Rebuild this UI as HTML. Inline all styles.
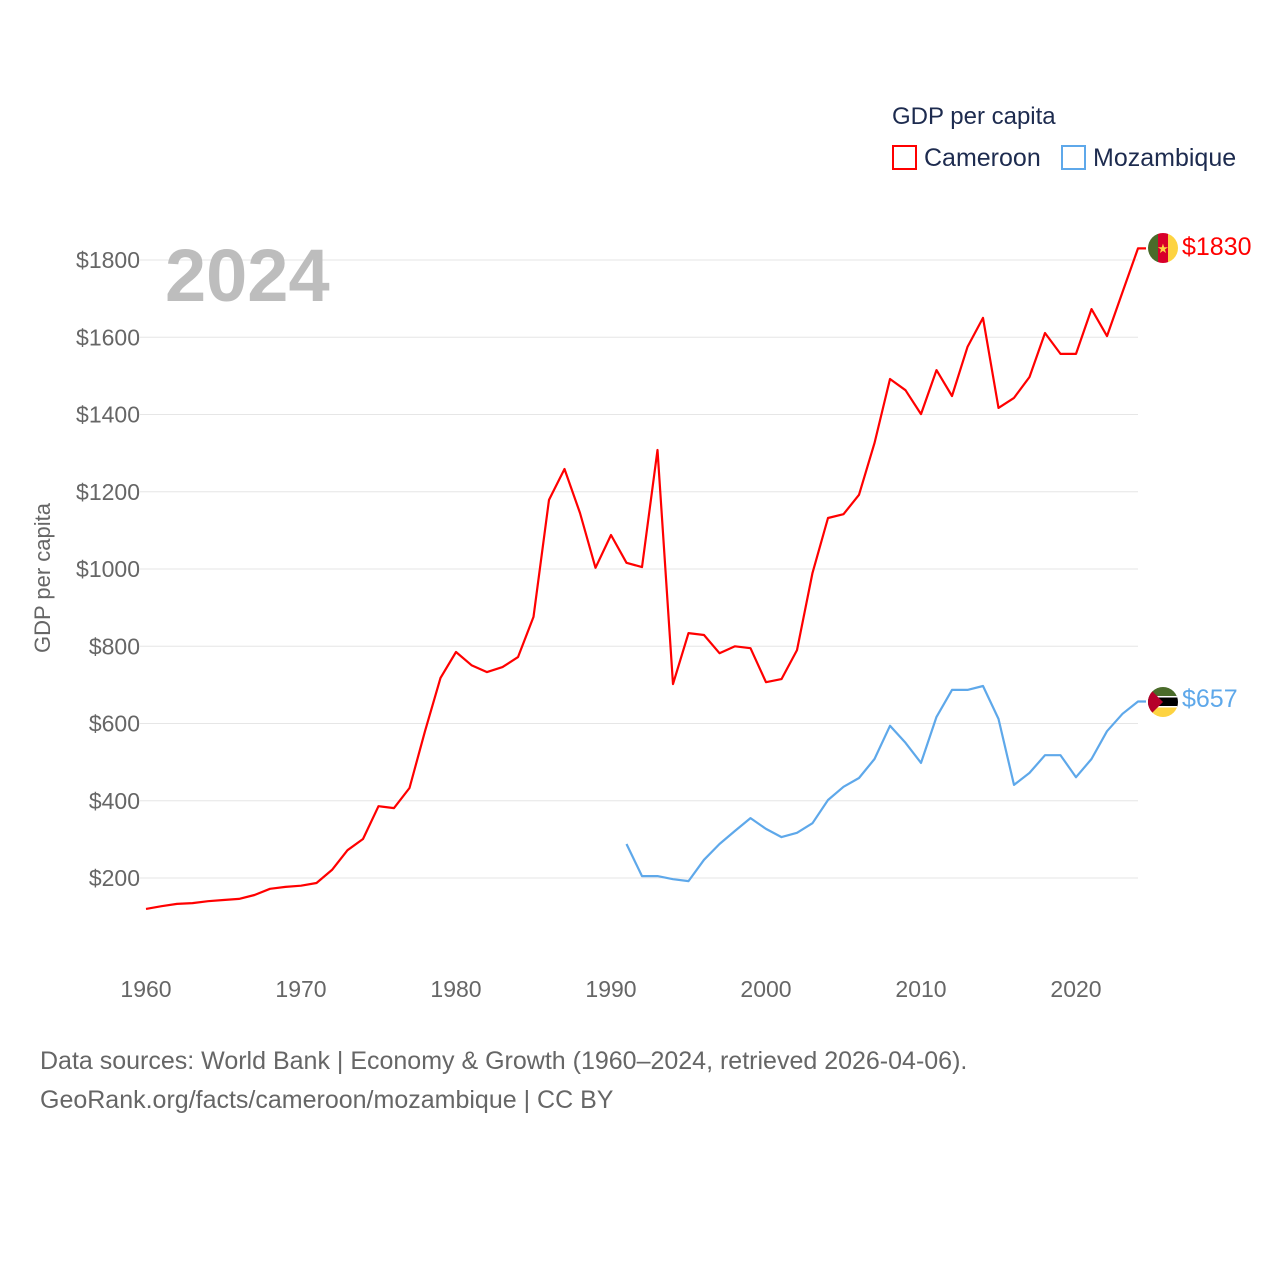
<!DOCTYPE html>
<html><head><meta charset="utf-8"><style>
html,body{margin:0;padding:0;background:#fff;}
svg{display:block;font-family:"Liberation Sans",sans-serif;}
</style></head><body>
<svg id="chart" width="1280" height="1280" viewBox="0 0 1280 1280">
<text x="892" y="124" font-size="24" fill="#1d2b4f">GDP per capita</text>
<g>
<rect x="893" y="146" width="23" height="23" fill="none" stroke="#ff0000" stroke-width="2"/>
<text x="924" y="166" font-size="25" fill="#1d2b4f">Cameroon</text></g>
<g>
<rect x="1062" y="146" width="23" height="23" fill="none" stroke="#5ea8ea" stroke-width="2"/>
<text x="1093" y="166" font-size="25" fill="#1d2b4f">Mozambique</text></g>
<g id="grid"></g><g id="yticks"></g><g id="xticks"></g>
<text x="165" y="301" font-size="74" font-weight="bold" fill="#bdbdbd">2024</text>
<text transform="translate(50,578) rotate(-90)" text-anchor="middle" font-size="22" fill="#666">GDP per capita</text>
<g id="series"></g>
<g>
<clipPath id="c1"><circle cx="1163" cy="248" r="15"/></clipPath>
<g clip-path="url(#c1)"><rect x="1148" y="233" width="10" height="30" fill="#4a6b2a"/><rect x="1158" y="233" width="10" height="30" fill="#d8002a"/><rect x="1168" y="233" width="10" height="30" fill="#fdd341"/><text x="1163" y="253" font-size="13" text-anchor="middle" fill="#fdd341">★</text></g></g>
<g>
<clipPath id="c2"><circle cx="1163" cy="702" r="15"/></clipPath>
<g clip-path="url(#c2)"><rect x="1148" y="687" width="30" height="10" fill="#4a6b2a"/><rect x="1148" y="697" width="30" height="10" fill="#000"/><rect x="1148" y="707" width="30" height="10" fill="#fdd341"/><rect x="1148" y="696" width="30" height="1.5" fill="#fff"/><rect x="1148" y="706" width="30" height="1.5" fill="#fff"/><polygon points="1148,687 1163,702 1148,717" fill="#b5002a"/></g></g>
<text x="1182" y="255" font-size="25" fill="#ff0000">$1830</text>
<text x="1182" y="707" font-size="25" fill="#5ea8ea">$657</text>
<text x="40" y="1069" font-size="25" fill="#666">Data sources: World Bank | Economy &amp; Growth (1960–2024, retrieved 2026-04-06).</text>
<text x="40" y="1108" font-size="25" fill="#666">GeoRank.org/facts/cameroon/mozambique | CC BY</text>
</svg>
<script>
const yTickValues=[200,400,600,800,1000,1200,1400,1600,1800];
const xTickYears=[1960,1970,1980,1990,2000,2010,2020];
const cameroonStart=1960;
const cameroonValues=[120,127,133,135,140,143,146,156,172,177,180,187,221,272,301,386,381,433,580,718,785,751,733,746,772,876,1179,1259,1145,1003,1088,1016,1005,1308,702,834,829,782,800,795,707,715,790,990,1132,1142,1192,1326,1492,1463,1401,1515,1448,1575,1650,1417,1443,1497,1611,1557,1557,1673,1603,1717,1830];
const mozambiqueStart=1991;
const mozambiqueValues=[288,205,205,197,192,247,288,322,355,327,306,317,342,402,436,459,508,594,550,498,617,687,687,697,612,441,472,518,518,461,508,580,625,657];
const NS="http://www.w3.org/2000/svg";
const xS=yr=>146+(yr-1960)*15.5;
const yS=v=>878-(v-200)*0.38625;
function mk(tag,attrs,parent){const e=document.createElementNS(NS,tag);for(const k in attrs)e.setAttribute(k,attrs[k]);parent.appendChild(e);return e;}
const grid=document.getElementById('grid'),yt=document.getElementById('yticks'),xt=document.getElementById('xticks'),ser=document.getElementById('series');
yTickValues.forEach(v=>{
 const l=mk('line',{x1:140,x2:1138,y1:yS(v),y2:yS(v),stroke:'#e6e6e6','stroke-width':1},grid);
 
 
 const t=mk('text',{x:140,y:yS(v)+8,'text-anchor':'end','font-size':23,fill:'#666'},yt);
 t.textContent='$'+v;
 
 
});
xTickYears.forEach(yr=>{
 const t=mk('text',{x:xS(yr),y:997,'text-anchor':'middle','font-size':23,fill:'#666'},xt);
 t.textContent=yr;
 
 
});
function line(start,vals,color,name){
 let d=vals.map((v,i)=>(i?'L':'M')+xS(start+i).toFixed(1)+','+yS(v).toFixed(1)).join(' ');
 const last=vals[vals.length-1];
 d+=' L'+(xS(start+vals.length-1)+8)+','+yS(last).toFixed(1);
 const p=mk('path',{d:d,fill:'none',stroke:color,'stroke-width':2.2,'stroke-linejoin':'round'},ser);
 
 
}
line(cameroonStart,cameroonValues,'#ff0000','line-cameroon');
line(mozambiqueStart,mozambiqueValues,'#5ea8ea','line-mozambique');
</script>
</body></html>
